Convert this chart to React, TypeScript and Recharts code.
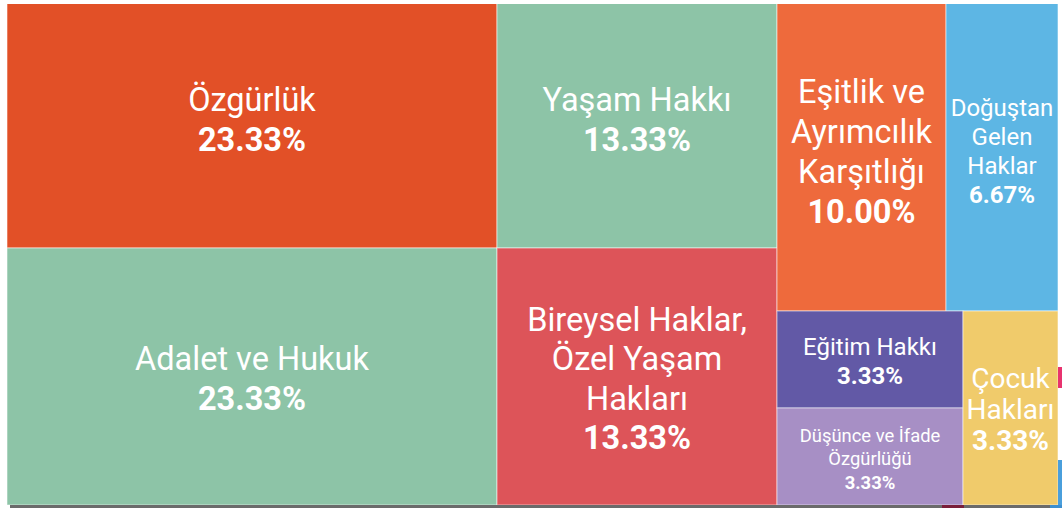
import React from 'react';
import { Treemap } from 'recharts';

// categories and their counts (out of 30 answers)
const NAMES = [
  'Özgürlük',
  'Adalet ve Hukuk',
  'Yaşam Hakkı',
  'Bireysel Haklar, Özel Yaşam Hakları',
  'Eşitlik ve Ayrımcılık Karşıtlığı',
  'Doğuştan Gelen Haklar',
  'Eğitim Hakkı',
  'Düşünce ve İfade Özgürlüğü',
  'Çocuk Hakları',
];
const COUNTS = [7, 7, 4, 4, 3, 2, 1, 1, 1];

// how each label is broken into lines
const LABEL_LINES: Record<string, string[]> = {
  'Bireysel Haklar, Özel Yaşam Hakları': ['Bireysel Haklar,', 'Özel Yaşam', 'Hakları'],
  'Eşitlik ve Ayrımcılık Karşıtlığı': ['Eşitlik ve', 'Ayrımcılık', 'Karşıtlığı'],
  'Doğuştan Gelen Haklar': ['Doğuştan', 'Gelen', 'Haklar'],
  'Düşünce ve İfade Özgürlüğü': ['Düşünce ve İfade', 'Özgürlüğü'],
  'Çocuk Hakları': ['Çocuk', 'Hakları'],
};

const COLORS = ['#e25027', '#8dc4a7', '#8dc4a7', '#dd5459', '#ee6a3c', '#5db6e4', '#6259a6', '#a78fc5', '#f0cb6b'];

// fontSize, lineHeight, vertical offset
const LABEL_STYLE: [number, number, number][] = [
  [32.5, 40, 0],
  [32.5, 40, 2],
  [32.5, 40, 0],
  [32.5, 39.3, 2.5],
  [32.5, 40, 0.5],
  [24, 29, 0.5],
  [24, 29, 1.5],
  [18.4, 23.5, 2],
  [28, 31, 1],
];

const total = COUNTS.reduce((a, b) => a + b, 0);
const data = NAMES.map((name, i) => ({ name, value: COUNTS[i], idx: i }));

const Cell = (props: any) => {
  const { x, y, width, height, depth, name, idx } = props;
  if (depth !== 1) return <g />;
  const i = idx ?? NAMES.indexOf(name);
  const [fs, lh, off] = LABEL_STYLE[i];
  const lines = [...(LABEL_LINES[name] || [name]), `${((COUNTS[i] / total) * 100).toFixed(2)}%`];
  const cx = x + width / 2;
  const startY = y + height / 2 + off - ((lines.length - 1) * lh) / 2;
  return (
    <g>
      <rect x={x} y={y} width={width} height={height} fill={COLORS[i]} stroke="rgba(255,255,255,0.55)" strokeWidth={1} />
      {lines.map((t, k) => (
        <text
          key={k}
          x={cx}
          y={startY + k * lh}
          textAnchor="middle"
          dominantBaseline="central"
          fill="#fff"
          stroke="none"
          fontSize={fs}
          fontWeight={k === lines.length - 1 ? 700 : 400}
          fontFamily="Roboto, sans-serif"
        >
          {t}
        </text>
      ))}
    </g>
  );
};

export default function App() {
  return (
    <div style={{ position: 'absolute', left: 0, top: 0, width: 1062, height: 508, overflow: 'hidden', background: '#fff' }}>
      {/* bits of the page behind the chart */}
      <div style={{ position: 'absolute', left: 10, top: 505, width: 1052, height: 3, background: '#6b6b6b' }} />
      <div style={{ position: 'absolute', left: 942, top: 505, width: 22, height: 3, background: '#7a1f3a' }} />
      <div style={{ position: 'absolute', left: 1050, top: 505, width: 12, height: 3, background: '#3d8fcf' }} />
      <div style={{ position: 'absolute', left: 1058, top: 367, width: 4, height: 21, background: '#e8336f' }} />
      <div style={{ position: 'absolute', left: 1058, top: 460, width: 4, height: 45, background: '#4a9fdc' }} />
      <div style={{ position: 'absolute', left: 7, top: 4, width: 1051, height: 501, overflow: 'hidden' }}>
        <div style={{ marginTop: -13 }}>
          <Treemap
            width={1051}
            height={514}
            data={data}
            dataKey="value"
            nameKey="name"
            content={<Cell />}
            isAnimationActive={false}
          />
        </div>
      </div>
    </div>
  );
}
